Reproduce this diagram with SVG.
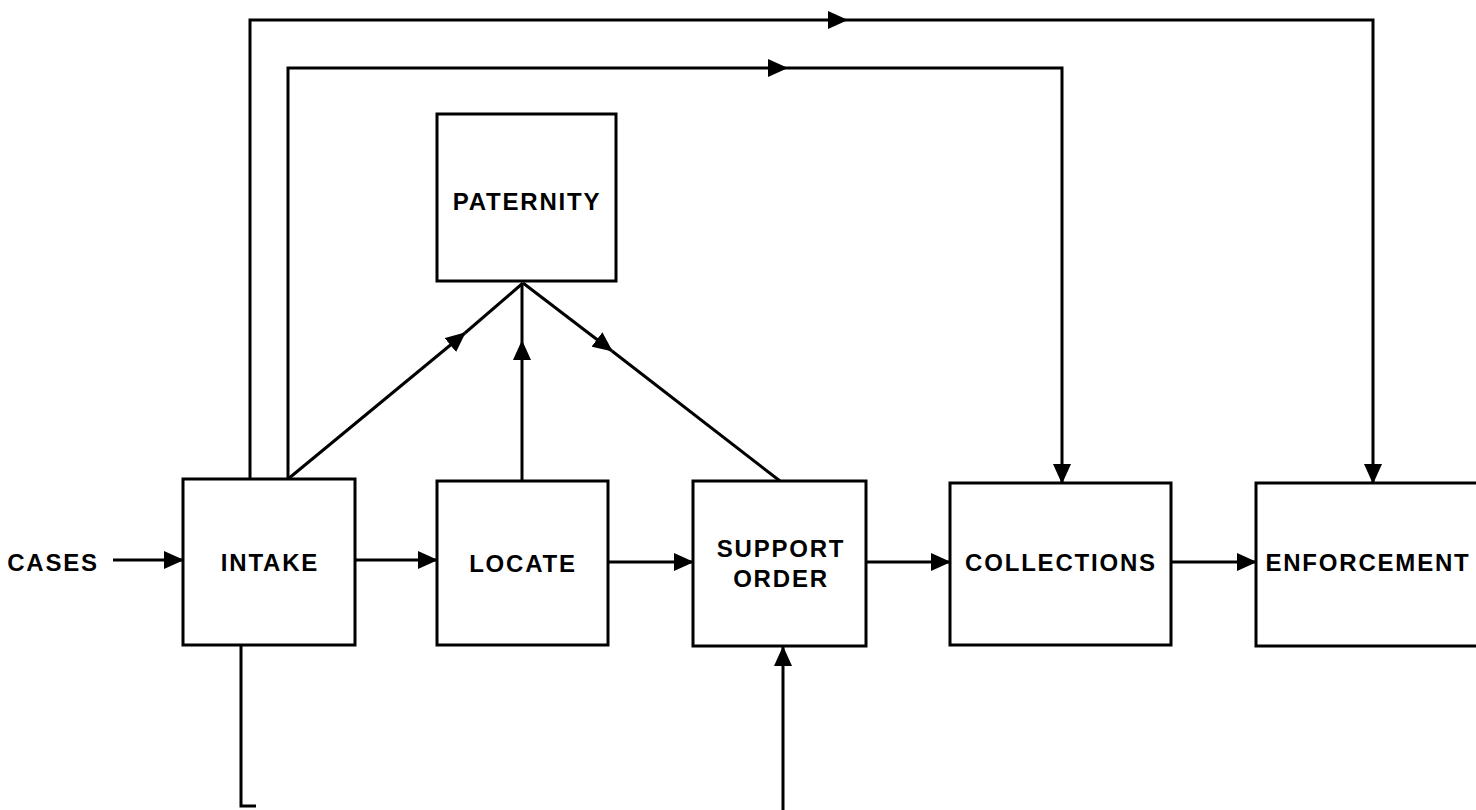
<svg xmlns="http://www.w3.org/2000/svg" width="1476" height="810" viewBox="0 0 1476 810">
<defs>
<marker id="ah" markerUnits="userSpaceOnUse" markerWidth="20" markerHeight="18" refX="19" refY="9" orient="auto">
<path d="M0,0 L20,9 L0,18 z" fill="#000"/>
</marker>
<style>
.box{fill:#fff;stroke:#000;stroke-width:3}
.lbl{font-family:"Liberation Sans",Arial,sans-serif;font-weight:bold;font-size:24px;letter-spacing:1.8px;fill:#000;text-anchor:middle}
.c{fill:none;stroke:#000;stroke-width:3}
.a{fill:none;stroke:#000;stroke-width:3;marker-end:url(#ah)}
</style>
</defs>
<rect width="1476" height="810" fill="#fff"/>
<g id="connectors">
<path class="a" d="M113,560 H183"/>
<path class="a" d="M355,560 H437"/>
<path class="a" d="M608,562 H693"/>
<path class="a" d="M866,562 H950"/>
<path class="a" d="M1171,562 H1256"/>
<path class="a" d="M250,479 V20 H847"/>
<path class="a" d="M847,20 H1373 V483"/>
<path class="a" d="M288,479 V68 H787"/>
<path class="a" d="M787,68 H1062 V483"/>
<path class="a" d="M288,479 L465,333"/>
<path class="c" d="M465,333 L523,283"/>
<path class="a" d="M522,481 V341"/>
<path class="c" d="M522,341 V283"/>
<path class="a" d="M523,283 L612,351"/>
<path class="c" d="M612,351 L780,481"/>
<path class="c" d="M241,645 V806 H256"/>
<path class="a" d="M783,810 V647"/>
</g>
<g id="cases"><text class="lbl" x="53" y="571">CASES</text></g>
<g id="intake"><rect class="box" x="183" y="479" width="172" height="166"/><text class="lbl" x="270" y="571">INTAKE</text></g>
<g id="locate"><rect class="box" x="437" y="481" width="171" height="164"/><text class="lbl" x="523" y="572">LOCATE</text></g>
<g id="support"><rect class="box" x="693" y="481" width="173" height="165"/><text class="lbl" x="781" y="557">SUPPORT</text><text class="lbl" x="781" y="587">ORDER</text></g>
<g id="collections"><rect class="box" x="950" y="483" width="221" height="162"/><text class="lbl" x="1061" y="571">COLLECTIONS</text></g>
<g id="enforcement"><rect class="box" x="1256" y="483" width="230" height="163"/><text class="lbl" x="1368" y="571">ENFORCEMENT</text></g>
<g id="paternity"><rect class="box" x="437" y="114" width="179" height="167"/><text class="lbl" x="527" y="210">PATERNITY</text></g>
</svg>
